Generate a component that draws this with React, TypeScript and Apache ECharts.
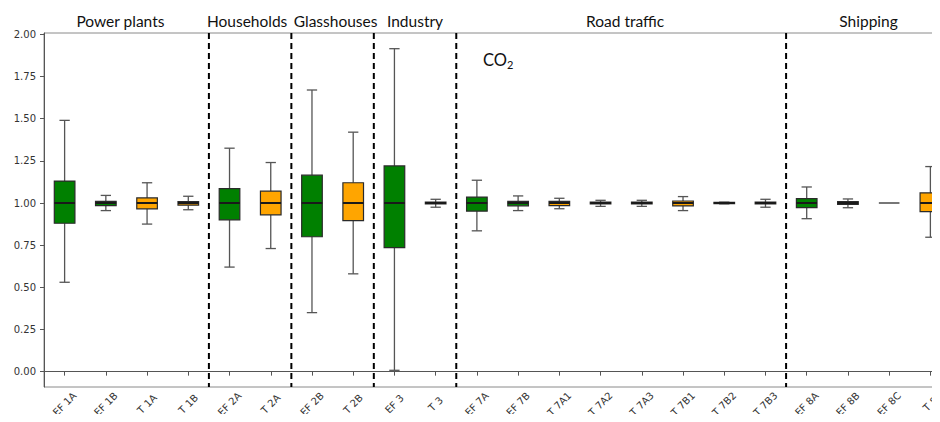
import React, { useEffect, useRef } from "react";
import * as echarts from "echarts";

const categories = ["EF 1A", "EF 1B", "T 1A", "T 1B", "EF 2A", "T 2A", "EF 2B", "T 2B", "EF 3", "T 3", "EF 7A", "EF 7B", "T 7A1", "T 7A2", "T 7A3", "T 7B1", "T 7B2", "T 7B3", "EF 8A", "EF 8B", "EF 8C", "T 8"];
const whiskerLow = [0.53, 0.955, 0.875, 0.96, 0.62, 0.73, 0.35, 0.58, 0.008, 0.975, 0.835, 0.955, 0.966, 0.98, 0.98, 0.955, 0.995, 0.975, 0.907, 0.972, 1.0, 0.797];
const quartile1 = [0.88, 0.985, 0.965, 0.987, 0.9, 0.93, 0.8, 0.895, 0.735, 0.995, 0.952, 0.983, 0.985, 0.994, 0.994, 0.983, 0.996, 0.994, 0.973, 0.992, 1.0, 0.949];
const medians = [1.0, 1.0, 1.0, 1.0, 1.0, 1.0, 1.0, 1.0, 1.0, 1.0, 1.0, 1.0, 1.0, 1.0, 1.0, 1.0, 1.0, 1.0, 1.0, 1.0, 1.0, 1.0];
const quartile3 = [1.13, 1.01, 1.03, 1.008, 1.085, 1.07, 1.165, 1.12, 1.22, 1.005, 1.035, 1.01, 1.01, 1.006, 1.006, 1.012, 1.004, 1.006, 1.026, 1.008, 1.0, 1.06];
const whiskerHigh = [1.49, 1.045, 1.12, 1.04, 1.325, 1.24, 1.67, 1.42, 1.915, 1.022, 1.135, 1.042, 1.028, 1.016, 1.016, 1.038, 1.005, 1.022, 1.095, 1.024, 1.0, 1.216];

const groupNames = ["Power plants", "Households", "Glasshouses", "Industry", "Road traffic", "Shipping"];
const groupSizes = [4, 2, 2, 2, 8, 4];

const yTicksMin = 0;
const yTicksMax = 2;
const yTickStep = 0.25;

// small horizontal nudges of the section titles (px), styling only
const titleNudge = [-6, -3, 3, 0, 4, 0];

const GREEN = "#008000";
const ORANGE = "#FFA500";
const TITLE_FONT = "Lato, 'Open Sans', sans-serif";
const TICK_FONT = "'DejaVu Sans', sans-serif";

export default function App() {
  const ref = useRef<HTMLDivElement>(null);

  useEffect(() => {
    if (!ref.current) return;
    const chart = echarts.init(ref.current, null, { renderer: "svg" });

    const yMin = -0.091;
    const yMax = 2.008;
    const gTop = 33;
    const gBottom = 35;
    const plotH = 422 - gTop - gBottom;
    const pxPerUnit = plotH / (yMax - yMin);
    const g2Top = gTop + (yMax - yTicksMax) * pxPerUnit;
    const g2Bottom = gBottom + (yTicksMin - yMin) * pxPerUnit;

    const boxData = categories.map((name, i) => ({
      name,
      value: [i, whiskerLow[i], quartile1[i], medians[i], quartile3[i], whiskerHigh[i]],
      itemStyle: { color: name.startsWith("EF") ? GREEN : ORANGE },
    }));

    let start = 0;
    const groupData = groupNames.map((name, gi) => {
      const s = start;
      const e = start + groupSizes[gi] - 1;
      start = e + 1;
      return { name, value: [s, e] };
    });

    const option: any = {
      animation: false,
      backgroundColor: "#ffffff",
      grid: [
        { left: 44, right: 0, top: gTop, bottom: gBottom, show: true, borderColor: "#8a8a8a", borderWidth: 1, backgroundColor: "transparent", outerBoundsMode: "none", containLabel: false },
        { left: 44, right: 0, top: g2Top, bottom: g2Bottom, show: false, outerBoundsMode: "none", containLabel: false },
      ],
      xAxis: [
        {
          type: "category",
          gridIndex: 0,
          data: categories,
          boundaryGap: true,
          axisLine: { show: true, lineStyle: { color: "#555", width: 1 } },
          axisTick: { show: true, alignWithLabel: true, length: 4, lineStyle: { color: "#555" } },
          axisLabel: {
            rotate: 45,
            align: "center",
            verticalAlign: "middle",
            margin: 17,
            interval: 0,
            hideOverlap: false,
            overflow: "none",
            fontFamily: TICK_FONT,
            fontSize: 10,
            color: "#333",
          },
          splitLine: { show: false },
        },
        { type: "value", gridIndex: 1, show: false, min: 0, max: 1 },
      ],
      yAxis: [
        {
          type: "value",
          gridIndex: 0,
          min: yMin,
          max: yMax,
          axisLine: { show: true, lineStyle: { color: "#555", width: 1 } },
          axisTick: { show: false },
          axisLabel: { show: false },
          splitLine: { show: false },
        },
        {
          type: "value",
          gridIndex: 1,
          min: yTicksMin,
          max: yTicksMax,
          interval: yTickStep,
          axisLine: { show: false },
          axisTick: { show: true, length: 4, lineStyle: { color: "#555" } },
          axisLabel: {
            formatter: (v: number) => v.toFixed(2),
            fontFamily: TICK_FONT,
            fontSize: 10,
            color: "#333",
            margin: 8,
          },
          splitLine: { show: false },
        },
      ],
      series: [
        {
          type: "custom",
          name: "boxes",
          xAxisIndex: 0,
          yAxisIndex: 0,
          data: boxData,
          encode: { x: 0, y: [1, 2, 3, 4, 5] },
          renderItem: (params: any, api: any) => {
            const x = api.value(0);
            const low = api.coord([x, api.value(1)]);
            const q1 = api.coord([x, api.value(2)]);
            const med = api.coord([x, api.value(3)]);
            const q3 = api.coord([x, api.value(4)]);
            const high = api.coord([x, api.value(5)]);
            const band = api.size([1, 0])[0];
            const bw = band * 0.5;
            const cw = band * 0.25;
            const cx = low[0];
            const color = api.visual("color");
            const collapsed = Math.abs(q1[1] - q3[1]) < 0.01 && Math.abs(low[1] - high[1]) < 0.01;
            const whisk = { stroke: "#555", lineWidth: 1.3 };
            if (collapsed) {
              return {
                type: "line",
                shape: { x1: cx - bw / 2, y1: med[1], x2: cx + bw / 2, y2: med[1] },
                style: { stroke: "#777", lineWidth: 2 },
              };
            }
            return {
              type: "group",
              children: [
                { type: "line", shape: { x1: cx, y1: q3[1], x2: cx, y2: high[1] }, style: whisk },
                { type: "line", shape: { x1: cx, y1: q1[1], x2: cx, y2: low[1] }, style: whisk },
                { type: "line", shape: { x1: cx - cw / 2, y1: high[1], x2: cx + cw / 2, y2: high[1] }, style: whisk },
                { type: "line", shape: { x1: cx - cw / 2, y1: low[1], x2: cx + cw / 2, y2: low[1] }, style: whisk },
                {
                  type: "rect",
                  shape: { x: cx - bw / 2, y: q3[1], width: bw, height: q1[1] - q3[1] },
                  style: { fill: color, stroke: "#2a2a2a", lineWidth: 1.2 },
                },
                {
                  type: "line",
                  shape: { x1: cx - bw / 2, y1: med[1], x2: cx + bw / 2, y2: med[1] },
                  style: { stroke: "#1a1a1a", lineWidth: 2 },
                },
              ],
            };
          },
        },
        {
          type: "custom",
          name: "groups",
          xAxisIndex: 0,
          yAxisIndex: 0,
          data: groupData,
          encode: { x: [0, 1] },
          renderItem: (params: any, api: any) => {
            const s = api.value(0);
            const e = api.value(1);
            const band = api.size([1, 0])[0];
            const xs = api.coord([s, 1])[0] - band / 2;
            const xe = api.coord([e, 1])[0] + band / 2;
            const cs = params.coordSys;
            const children: any[] = [
              {
                type: "text",
                style: {
                  text: groupNames[params.dataIndex],
                  x: (xs + xe) / 2 + titleNudge[params.dataIndex],
                  y: cs.y - 12,
                  align: "center",
                  verticalAlign: "middle",
                  fontFamily: TITLE_FONT,
                  fontSize: 15.5,
                  fill: "#111",
                },
              },
            ];
            if (params.dataIndex < groupNames.length - 1) {
              children.push({
                type: "line",
                shape: { x1: xe, y1: cs.y, x2: xe, y2: cs.y + cs.height },
                style: { stroke: "#000", lineWidth: 2, lineDash: [6, 4] },
              });
            }
            return { type: "group", children };
          },
        },
      ],
      graphic: [
        {
          type: "group",
          left: 483,
          top: 51,
          children: [
            { type: "text", x: 0, y: 0, style: { text: "CO", fontFamily: TITLE_FONT, fontSize: 16.5, fill: "#111" } },
            { type: "text", x: 24, y: 8, style: { text: "2", fontFamily: TITLE_FONT, fontSize: 11, fill: "#111" } },
          ],
        },
      ],
    };

    chart.setOption(option);
    return () => chart.dispose();
  }, []);

  return (
    <div style={{ width: 940, height: 422, margin: -8, overflow: "hidden", position: "relative" }}>
      <div ref={ref} style={{ width: 951, height: 422 }} />
    </div>
  );
}
